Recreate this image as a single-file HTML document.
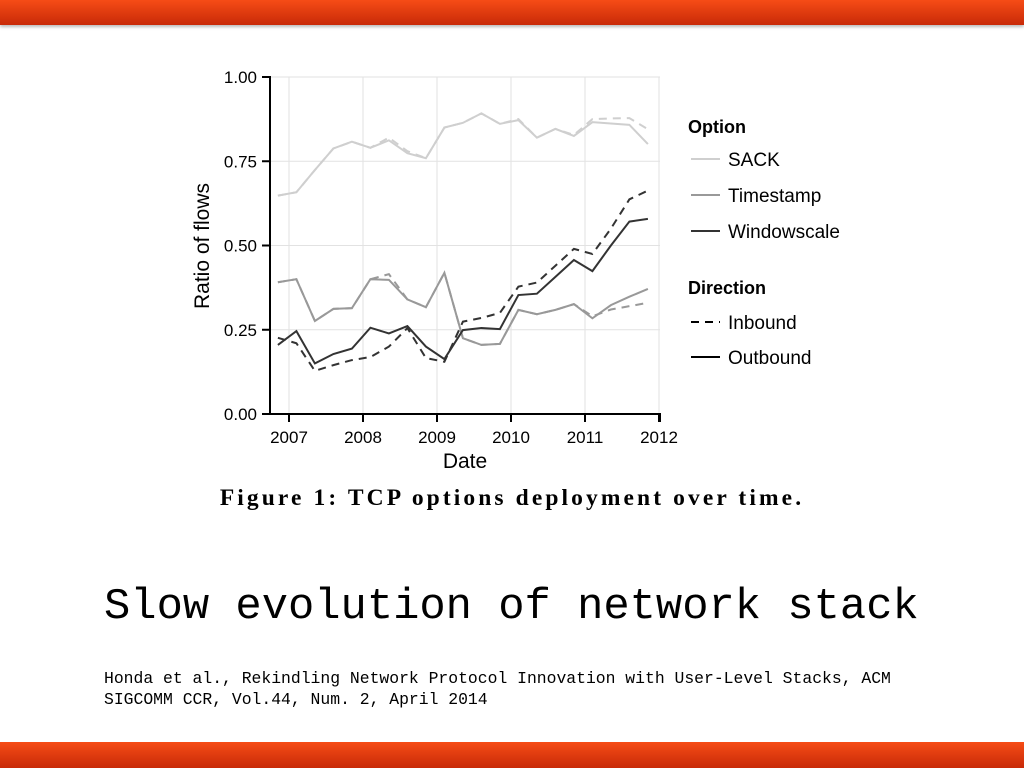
<!DOCTYPE html>
<html><head><meta charset="utf-8"><style>
body{margin:0;width:1024px;height:768px;background:#fff;position:relative;overflow:hidden;font-family:"Liberation Sans",sans-serif}
.bar{position:absolute;left:0;width:1024px}
</style></head><body>
<div class="bar" style="top:0;height:25px;background:linear-gradient(#f64c16,#c82a08);box-shadow:0 2px 3px #bbb"></div>
<div class="bar" style="top:742px;height:26px;background:linear-gradient(#f64c16,#c82a08)"></div>
<svg id="chart" width="1024" height="520" style="position:absolute;left:0;top:0" font-family="Liberation Sans, sans-serif"></svg>
<div style="position:absolute;left:0;width:1024px;top:485px;text-align:center;font-family:'Liberation Serif',serif;font-weight:bold;font-size:23.5px;letter-spacing:3.1px">Figure 1: TCP options deployment over time.</div>
<div style="position:absolute;left:104px;top:583px;font-family:'Liberation Mono',monospace;font-size:43.8px">Slow evolution of network stack</div>
<div style="position:absolute;left:104px;top:668px;font-family:'Liberation Mono',monospace;font-size:16.4px;line-height:21px">Honda et al., Rekindling Network Protocol Innovation with User-Level Stacks, ACM<br>SIGCOMM CCR, Vol.44, Num. 2, April 2014</div>
<script>
const xTicks=[2007,2008,2009,2010,2011,2012];
const yTicks=[0,0.25,0.5,0.75,1.0];
const yTickLabels=["0.00","0.25","0.50","0.75","1.00"];
const dates=[2006.85,2007.1,2007.35,2007.6,2007.85,2008.1,2008.35,2008.6,2008.85,2009.1,2009.35,2009.6,2009.85,2010.1,2010.35,2010.6,2010.85,2011.1,2011.35,2011.6,2011.85];
const sackOut=[0.648,0.658,0.724,0.788,0.808,0.79,0.812,0.774,0.759,0.85,0.864,0.892,0.861,0.872,0.82,0.846,0.825,0.866,0.862,0.858,0.801];
const sackIn=[0.648,0.658,0.724,0.788,0.808,0.79,0.82,0.78,0.759,0.85,0.864,0.892,0.861,0.875,0.82,0.846,0.828,0.875,0.877,0.878,0.845];
const tsOut=[0.391,0.4,0.276,0.312,0.314,0.4,0.398,0.34,0.317,0.419,0.225,0.205,0.208,0.309,0.296,0.309,0.326,0.284,0.323,0.348,0.371];
const tsIn=[0.391,0.4,0.276,0.312,0.314,0.4,0.415,0.34,0.317,0.419,0.225,0.205,0.208,0.309,0.296,0.309,0.326,0.29,0.31,0.32,0.33];
const wsOut=[0.205,0.246,0.15,0.178,0.194,0.256,0.239,0.261,0.2,0.163,0.249,0.255,0.252,0.353,0.357,0.407,0.457,0.424,0.5,0.571,0.579];
const wsIn=[0.226,0.21,0.128,0.145,0.16,0.169,0.2,0.255,0.166,0.155,0.274,0.285,0.3,0.378,0.39,0.44,0.49,0.475,0.55,0.637,0.663];
const svg=document.getElementById('chart');const NS='http://www.w3.org/2000/svg';
const X=t=>289+(t-2007)*74, Y=v=>414-v*337;
function mk(tag,a,parent){const e=document.createElementNS(NS,tag);for(const k in a)e.setAttribute(k,a[k]);(parent||svg).appendChild(e);return e;}
xTicks.forEach(t=>{const g=mk('line',{x1:X(t),x2:X(t),y1:77,y2:414,stroke:'#e2e2e2','stroke-width':1});

});
yTicks.forEach(v=>{const g=mk('line',{x1:270,x2:660,y1:Y(v),y2:Y(v),stroke:'#e2e2e2','stroke-width':1});

});
function series(vals,color,dash,name){const p=mk('polyline',{points:vals.map((v,i)=>X(dates[i])+','+Y(v)).join(' '),fill:'none',stroke:color,'stroke-width':2,'stroke-dasharray':dash||'none'});

}
series(sackIn,'#cfcfcf','8,6','sack-inbound-line');series(sackOut,'#cfcfcf','','sack-outbound-line');
series(tsIn,'#999','8,6','timestamp-inbound-line');series(tsOut,'#999','','timestamp-outbound-line');
series(wsIn,'#333','8,6','windowscale-inbound-line');series(wsOut,'#333','','windowscale-outbound-line');
let a=mk('path',{d:'M262 77H270V414H660V422',fill:'none',stroke:'#000','stroke-width':2});


yTicks.forEach((v,i)=>{mk('line',{x1:262,x2:270,y1:Y(v),y2:Y(v),stroke:'#000','stroke-width':2});
const t=mk('text',{x:257,y:Y(v)+6,'text-anchor':'end','font-size':17});t.textContent=yTickLabels[i];

});
xTicks.forEach(v=>{mk('line',{x1:X(v),x2:X(v),y1:414,y2:422,stroke:'#000','stroke-width':2});
const t=mk('text',{x:X(v),y:443,'text-anchor':'middle','font-size':17});t.textContent=v;

});
let t=mk('text',{x:465,y:468,'text-anchor':'middle','font-size':21});t.textContent='Date';


t=mk('text',{x:0,y:0,'text-anchor':'middle','font-size':21,transform:'translate(209,246) rotate(-90)'});t.textContent='Ratio of flows';


const leg=[['Option',null,null,133,true],['SACK','#cfcfcf','',166],['Timestamp','#999','',202],['Windowscale','#333','',238],['Direction',null,null,294,true],['Inbound','#000','8,6',329],['Outbound','#000','',364]];
leg.forEach(l=>{if(l[4]){const h=mk('text',{x:688,y:l[3],'font-size':18,'font-weight':'bold'});h.textContent=l[0];

return;}
mk('line',{x1:691,x2:720,y1:l[3]-7,y2:l[3]-7,stroke:l[1],'stroke-width':2,'stroke-dasharray':l[2]||'none'});
const e=mk('text',{x:728,y:l[3],'font-size':19});e.textContent=l[0];

});
</script>
</body></html>
